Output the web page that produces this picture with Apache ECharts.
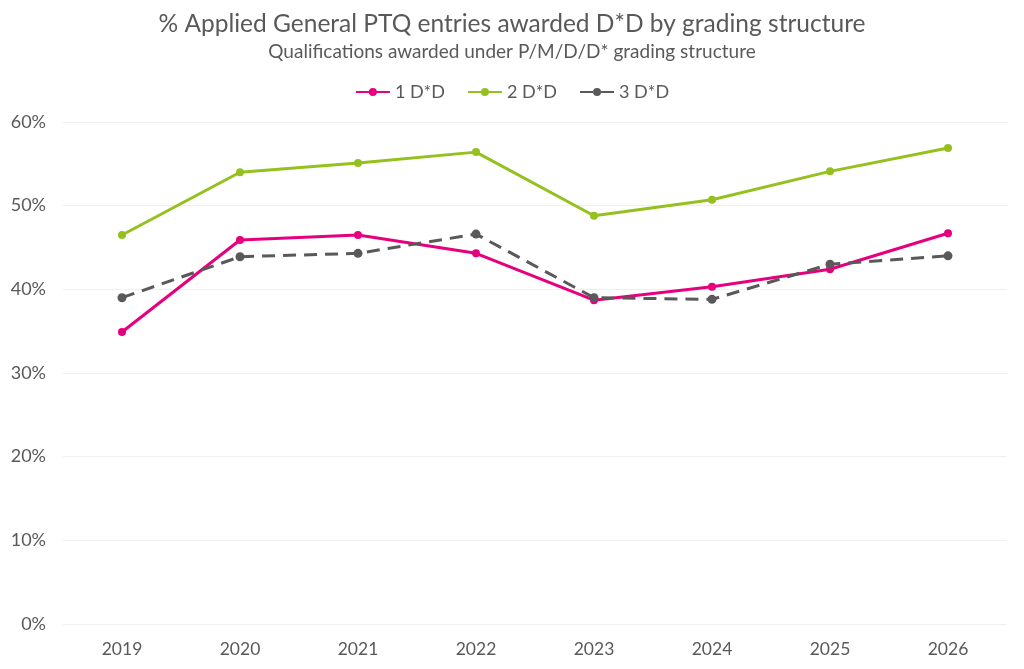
<!DOCTYPE html>
<html>
<head>
<meta charset="utf-8">
<script src="https://cdn.jsdelivr.net/npm/echarts@6/dist/echarts.min.js"></script>
<style>
    html, body { margin: 0; padding: 0; background: #ffffff; }
    #chart { width: 1024px; height: 669px; }
</style>
</head>
<body>
<div id="chart"></div>
<script>
// 年份
var years = ['2019', '2020', '2021', '2022', '2023', '2024', '2025', '2026'];
// 各系列数值 (%)
var oneDD = [34.9, 45.9, 46.5, 44.3, 38.7, 40.3, 42.4, 46.7];
var twoDD = [46.5, 54.0, 55.1, 56.4, 48.8, 50.7, 54.1, 56.9];
var threeDD = [39.0, 43.9, 44.3, 46.6, 39.0, 38.8, 43.0, 44.0];
var seriesNames = ['1 D*D', '2 D*D', '3 D*D'];

var textColor = '#595959';
var fontName = 'Lato';

var myChart = echarts.init(document.getElementById('chart'));
var option = {
    backgroundColor: '#ffffff',
    color: ['#e6007e', '#95c11f', '#595959'],
    title: {
        text: '% Applied General PTQ entries awarded D*D by grading structure',
        subtext: 'Qualifications awarded under P/M/D/D* grading structure',
        left: 'center',
        top: 7,
        itemGap: 5,
        textStyle: {
            fontFamily: fontName,
            fontSize: 24.5,
            fontWeight: 'normal',
            color: textColor
        },
        subtextStyle: {
            fontFamily: fontName,
            fontSize: 19,
            color: textColor
        }
    },
    legend: {
        top: 78,
        left: 'center',
        itemWidth: 34,
        itemHeight: 10,
        itemGap: 22,
        textStyle: {
            fontFamily: fontName,
            fontSize: 18,
            color: textColor
        },
        data: seriesNames
    },
    grid: {
        left: 63,
        right: 17,
        top: 122,
        bottom: 45
    },
    xAxis: {
        type: 'category',
        data: years,
        boundaryGap: true,
        axisLine: { show: false },
        axisTick: { show: false },
        axisLabel: {
            fontFamily: fontName,
            fontSize: 17.5,
            color: textColor,
            margin: 16
        }
    },
    yAxis: {
        type: 'value',
        min: 0,
        max: 60,
        interval: 10,
        axisLine: { show: false },
        axisTick: { show: false },
        splitLine: { lineStyle: { color: '#efefef', width: 1 } },
        axisLabel: {
            fontFamily: fontName,
            fontSize: 18,
            color: textColor,
            margin: 17,
            formatter: '{value}%'
        }
    },
    series: [
        {
            name: seriesNames[0],
            type: 'line',
            data: oneDD,
            symbol: 'circle',
            symbolSize: 8,
            lineStyle: { width: 3 },
            z: 3
        },
        {
            name: seriesNames[1],
            type: 'line',
            data: twoDD,
            symbol: 'circle',
            symbolSize: 8,
            lineStyle: { width: 3 },
            z: 2
        },
        {
            name: seriesNames[2],
            type: 'line',
            data: threeDD,
            symbol: 'circle',
            symbolSize: 9,
            lineStyle: { width: 3, type: [13, 8] },
            z: 4
        }
    ]
};
myChart.setOption(option);
</script>
</body>
</html>
